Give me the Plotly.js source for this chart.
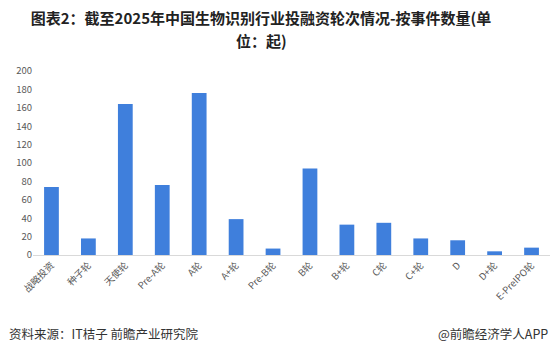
<!DOCTYPE html>
<html><head><meta charset="utf-8">
<script src="https://cdn.plot.ly/plotly-3.0.1.min.js"></script>
<style>html,body{margin:0;padding:0;background:#fff;}#chart{width:555px;height:353px;}</style>
</head><body><div id="chart"></div>
<script>
const categories = ["战略投资","种子轮","天使轮","Pre-A轮","A轮","A+轮","Pre-B轮","B轮","B+轮","C轮","C+轮","D","D+轮","E-PreIPO轮"];
const counts = [74, 18, 164, 76, 176, 39, 7, 94, 33, 35, 18, 16, 4, 8];
const yTicks = [0,20,40,60,80,100,120,140,160,180,200];

const font = "'Noto Sans CJK SC', 'Noto Sans', sans-serif";
const trace = {
  type: 'bar', x: categories, y: counts,
  marker: {color: '#3f7fdc'}, width: 0.4, hoverinfo: 'x+y'
};
const plotH = 353 - 71 - 98;
const py = (pix) => (255 - pix) / plotH;
const layout = {
  width: 555, height: 353,
  margin: {l: 33, r: 5, t: 71, b: 98},
  paper_bgcolor: '#fff', plot_bgcolor: '#fff',
  showlegend: false,
  title: {
    text: '<b>图表2：截至2025年中国生物识别行业投融资轮次情况-按事件数量(单</b>',
    font: {family: font, size: 15, color: '#222'},
    x: 261/555, xref: 'container', xanchor: 'center',
    y: 1 - 19/353, yref: 'container', yanchor: 'middle'
  },
  xaxis: {
    type: 'category', tickangle: -45,
    tickfont: {family: font, size: 9.5, color: '#595959'},
    showline: true, linecolor: '#d9d9d9', linewidth: 1,
    showgrid: false, ticks: '', zeroline: false
  },
  yaxis: {
    range: [0, 200], tickvals: yTicks,
    tickfont: {family: font, size: 9.5, color: '#595959'},
    showgrid: false, zeroline: false, showline: false, ticks: ''
  },
  annotations: [
    {text: '<b>位：起)</b>', xref: 'paper', yref: 'paper', x: (261-33)/517, y: py(40), xanchor: 'center', yanchor: 'middle', showarrow: false, font: {family: font, size: 15, color: '#222'}},
    {text: '资料来源：IT桔子 前瞻产业研究院', xref: 'paper', yref: 'paper', x: (7-33)/517, y: py(333), xanchor: 'left', yanchor: 'middle', showarrow: false, font: {family: font, size: 12.5, color: '#333'}},
    {text: '@前瞻经济学人APP', xref: 'paper', yref: 'paper', x: 1.0, y: py(333), xanchor: 'right', yanchor: 'middle', showarrow: false, font: {family: font, size: 12.5, color: '#333'}}
  ]
};
Plotly.newPlot('chart', [trace], layout, {displayModeBar: false, staticPlot: true});
</script></body></html>
